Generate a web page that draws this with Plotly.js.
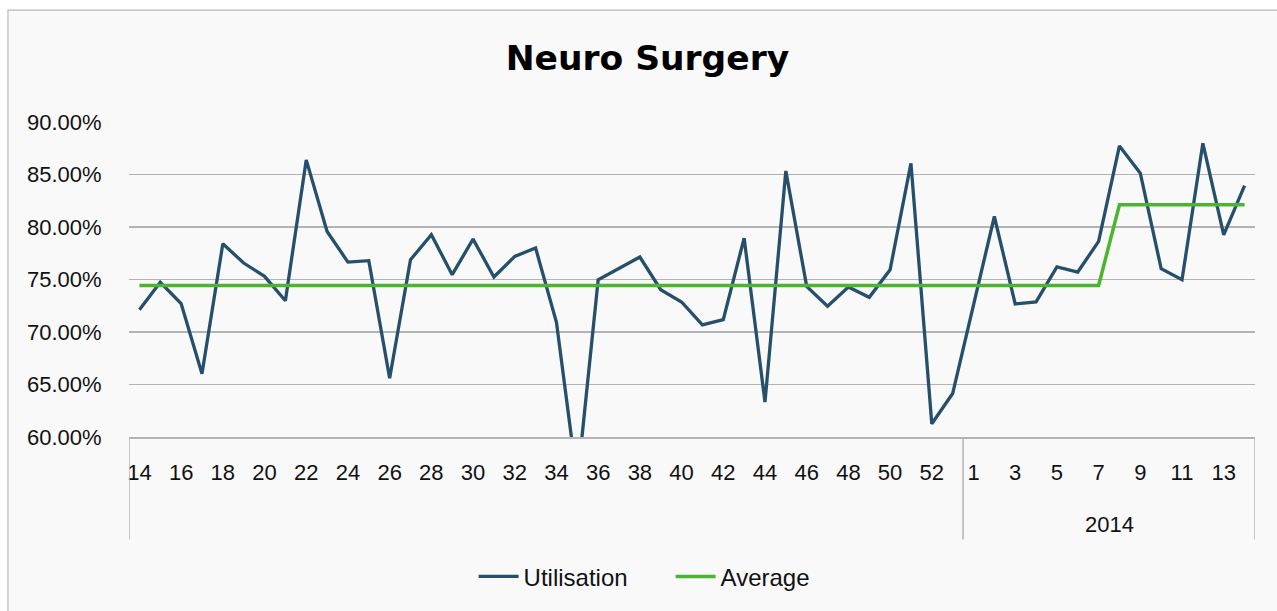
<!DOCTYPE html>
<html>
<head>
<meta charset="utf-8">
<script src="https://cdn.plot.ly/plotly-3.0.1.min.js"></script>
<style>html,body{margin:0;padding:0;background:#fff;}#chart{width:1277px;height:611px;}</style>
</head>
<body>
<div id="chart"></div>
<script>
// Week numbers (2013 weeks 14-53, then 2014 weeks 1-14)
var weeks = ['14','15','16','17','18','19','20','21','22','23','24','25','26','27','28','29','30','31','32','33',
             '34','35','36','37','38','39','40','41','42','43','44','45','46','47','48','49','50','51','52','53',
             '1','2','3','4','5','6','7','8','9','10','11','12','13','14'];
var years = ['','','','','','','','','','','','','','','','','','','','',
             '','','','','','','','','','','','','','','','','','','','',
             '2014','2014','2014','2014','2014','2014','2014','2014','2014','2014','2014','2014','2014','2014'];
// Utilisation (%)
var utilisation = [72.13,74.73,72.70,66.02,78.40,76.57,75.30,72.98,86.39,79.57,
                   76.66,76.79,65.60,76.88,79.26,75.46,78.85,75.24,77.20,78.00,
                   70.92,55.70,74.98,76.09,77.14,74.03,72.86,70.67,71.18,78.94,
                   63.32,85.34,74.35,72.45,74.29,73.30,75.93,86.07,61.26,64.14,
                   72.60,81.00,72.67,72.86,76.19,75.71,78.63,87.72,85.12,76.03,
                   74.98,87.97,79.26,83.95];
// Average (%)
var average = [74.44,74.44,74.44,74.44,74.44,74.44,74.44,74.44,74.44,74.44,
               74.44,74.44,74.44,74.44,74.44,74.44,74.44,74.44,74.44,74.44,
               74.44,74.44,74.44,74.44,74.44,74.44,74.44,74.44,74.44,74.44,
               74.44,74.44,74.44,74.44,74.44,74.44,74.44,74.44,74.44,74.44,
               74.44,74.44,74.44,74.44,74.44,74.44,74.44,82.11,82.11,82.11,
               82.11,82.11,82.11,82.11];
var yTicks = [60,65,70,75,80,85,90];
var yTickText = yTicks.map(function(v){ return v.toFixed(2) + '%'; });

var idx = weeks.map(function(_, i){ return i; });
var tickvals = idx.filter(function(i){ return i % 2 === 0; });
var ticktext = tickvals.map(function(i){ return weeks[i]; });

// group boundaries and labels from years array
var groups = [];
years.forEach(function(y, i){
  if (!groups.length || groups[groups.length-1].name !== y) groups.push({name:y, start:i, end:i});
  else groups[groups.length-1].end = i;
});

var axFont = {family:'"Liberation Sans", Arial, sans-serif', size:22, color:'#111'};
var shapes = [{
  type:'rect', xref:'paper', yref:'paper', x0:-0.1075, x1:1.04, y0:-0.62, y1:1.355,
  fillcolor:'#f9f9f9', line:{color:'#b8b8b8', width:1.2}, layer:'below'
}];
var annotations = [];
groups.forEach(function(g, k){
  if (k === 0) shapes.push({type:'line', xref:'x', yref:'paper', x0:g.start-0.5, x1:g.start-0.5, y0:0, y1:-0.325, line:{color:'#b3b3b3', width:1.5}});
  shapes.push({type:'line', xref:'x', yref:'paper', x0:g.end+0.5, x1:g.end+0.5, y0:0, y1:-0.325, line:{color:'#b3b3b3', width:1.5}});
  if (g.name) annotations.push({xref:'x', yref:'paper', x:(g.start+g.end)/2, y:-0.277, text:g.name, showarrow:false, font:axFont, yanchor:'middle'});
});

var data = [
  {x: idx, y: utilisation, type:'scatter', mode:'lines', name:'Utilisation', line:{color:'#264f6b', width:3.3}},
  {x: idx, y: average, type:'scatter', mode:'lines', name:'Average', line:{color:'#4bb52f', width:3.5}}
];

var layout = {
  width:1277, height:611,
  margin:{l:129, r:22, t:122, b:173.5},
  paper_bgcolor:'#ffffff', plot_bgcolor:'rgba(0,0,0,0)',
  title:{text:'Neuro Surgery', font:{family:'"DejaVu Sans", sans-serif', size:34.5, color:'#000', weight:'bold'},
         xref:'container', x:0.507, xanchor:'center', yref:'container', y:0.906, yanchor:'middle'},
  xaxis:{range:[-0.5, weeks.length-0.5], tickvals:tickvals, ticktext:ticktext, showgrid:false, zeroline:false,
         showline:true, linecolor:'#b3b3b3', linewidth:1.5, ticks:'outside', ticklen:15, tickcolor:'rgba(0,0,0,0)',
         tickfont:axFont, fixedrange:true},
  yaxis:{range:[60,90], tickvals:yTicks, ticktext:yTickText, showgrid:true, gridcolor:'#b3b3b3', gridwidth:1.5,
         zeroline:false, showline:false, ticks:'outside', ticklen:22, tickcolor:'rgba(0,0,0,0)', tickfont:axFont, fixedrange:true},
  showlegend:true,
  legend:{orientation:'h', x:0.481, xanchor:'center', y:-0.444, yanchor:'middle', bgcolor:'rgba(0,0,0,0)',
          font:{family:'"Liberation Sans", Arial, sans-serif', size:24, color:'#111'}, itemwidth:40, entrywidth:142},
  shapes:shapes, annotations:annotations
};
Plotly.newPlot('chart', data, layout, {displayModeBar:false, staticPlot:true});
</script>
</body>
</html>
